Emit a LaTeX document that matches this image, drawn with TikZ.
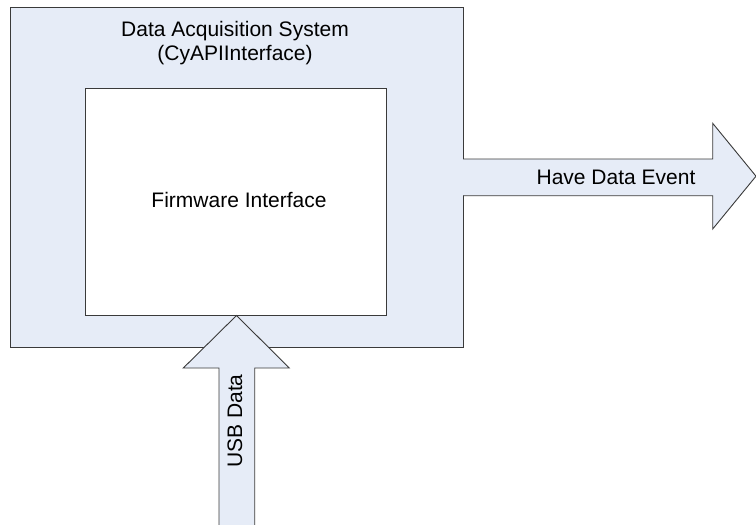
\documentclass[tikz,border=0pt]{standalone}
\usepackage{fontspec}
\setmainfont{Liberation Sans}
\begin{document}
\begin{tikzpicture}[x=1pt,y=-1pt,
  panel/.style={draw=linegray, line width=0.9pt},
  blockarrow/.style={fill=paleblue},
  outline/.style={draw=linegray, line width=0.9pt, line join=miter},
  label/.style={inner sep=0pt, font=\fontsize{21}{24}\selectfont, text=black},
]
\definecolor{paleblue}{HTML}{E6ECF7}
\definecolor{linegray}{HTML}{3A3A3A}
\useasboundingbox (0,0) rectangle (756,525);

% outer system box and the firmware interface inside it
\draw[panel, fill=paleblue] (10,7) rectangle (463,347);
\node[panel, fill=white, minimum width=301pt, minimum height=227pt, anchor=north west, inner sep=0pt] (fw) at (85,88) {};
\node[label, align=center] (sys) at (235,43) {Data Acquisition System\\[-0.5pt](CyAPIInterface)};
\node[label] (fwlabel) at (239,200) {Firmware Interface};

% outgoing event arrow
\coordinate (evtail) at (463,176);
\fill[blockarrow] (463,159) -- (712.7,159) -- (712.7,123.3) -- (756,176.2)
  -- (712.7,229) -- (712.7,195.7) -- (463,195.7) -- cycle;
\draw[outline] (463,159) -- (712.7,159) -- (712.7,123.3) -- (756,176.2)
  -- (712.7,229) -- (712.7,195.7) -- (463,195.7);
\node[label] (evlabel) at (616,177) {Have Data Event};

% incoming USB data arrow
\coordinate (usbtip) at (fw.south);
\fill[blockarrow] (219,526) -- (219,368) -- (183.3,368) -- (236.5,315.5)
  -- (289.3,368) -- (254.7,368) -- (254.7,526) -- cycle;
\draw[outline] (219,526) -- (219,368) -- (183.3,368) -- (236.5,315.5)
  -- (289.3,368) -- (254.7,368) -- (254.7,526);
\node[label, rotate=90] (usblabel) at (235,421) {USB Data};
\end{tikzpicture}
\end{document}
